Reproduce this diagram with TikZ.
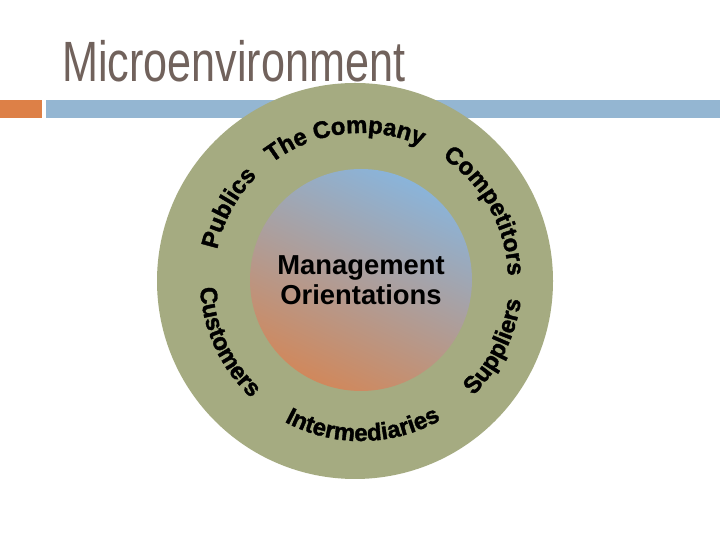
\documentclass[tikz,border=0pt]{standalone}
\usepackage{fontspec}
\setmainfont{Liberation Sans}
\newfontfamily\ringfont{Liberation Sans}[BoldFeatures={FakeBold=1.6}]
\usepackage{tikz}
\usetikzlibrary{decorations.text, positioning}
\definecolor{sage}{RGB}{165, 171, 129}
\definecolor{skyblue}{RGB}{148, 182, 210}
\definecolor{rust}{RGB}{221, 128, 71}
\definecolor{taupe}{RGB}{113, 98, 92}
\definecolor{coreblue}{RGB}{138, 180, 218}
\definecolor{coreorange}{RGB}{208, 136, 92}
\newcommand{\ringtext}{\ringfont\bfseries\fontsize{24}{24}\selectfont}

\begin{document}
\begin{tikzpicture}[
  x=1bp, y=1bp,
  ring/.style={circle, fill=sage, minimum size=396bp, inner sep=0pt},
  core/.style={circle, minimum size=222bp, inner sep=0pt, align=center,
               top color=coreblue, bottom color=coreorange, shading angle=-25,
               font=\bfseries\fontsize{27.5}{30}\selectfont},
  ringlabel/.style={decorate, decoration={text along path, text align=center,
               text={|\ringtext|#1}}}
]
  \fill[white] (0,0) rectangle (720,540);
  \useasboundingbox (0,0) rectangle (720,540);

  %% Title and header bar
  \node[anchor=base west, inner sep=0pt, text=taupe,
        font=\fontsize{57}{57}\selectfont] (title) at (62,458)
    {\scalebox{0.76}[1]{Microenvironment}};
  \fill[rust]    (0,422)  rectangle (42,440);
  \fill[skyblue] (46,422) rectangle (720,440);

  %% Two circles
  \node[ring] (env) at (355,259) {};
  \node[core] (core) at (361,260) {Management\\Orientations};

  %% Upper labels (clockwise)
  \path[ringlabel={The Company}]
    ([shift={(141.5:147)}]core.center) arc[start angle=141.5, end angle=51.5, radius=147];
  \path[ringlabel={Competitors}]
    ([shift={(74:147)}]core.center) arc[start angle=74, end angle=-16, radius=147];
  \path[ringlabel={Publics}]
    ([shift={(196.5:147)}]core.center) arc[start angle=196.5, end angle=106.5, radius=147];

  %% Lower labels (counter-clockwise)
  \path[ringlabel={Customers}]
    ([shift={(160:161)}]core.center) arc[start angle=160, end angle=250, radius=161];
  \path[ringlabel={Intermediaries}]
    ([shift={(225.7:161)}]core.center) arc[start angle=225.7, end angle=315.7, radius=161];
  \path[ringlabel={Suppliers}]
    ([shift={(288.5:161)}]core.center) arc[start angle=288.5, end angle=378.5, radius=161];
\end{tikzpicture}
\end{document}
